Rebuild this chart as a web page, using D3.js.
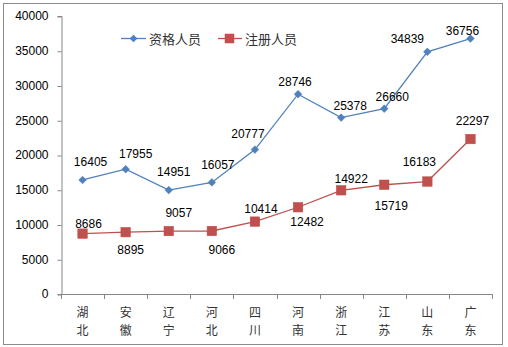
<!DOCTYPE html>
<html>
<head>
<meta charset="utf-8">
<script src="https://cdn.jsdelivr.net/npm/d3@7"></script>
<style>
  html, body { margin: 0; padding: 0; background: #fff; }
  svg { display: block; }
  text { font-family: "Liberation Sans", Arial, sans-serif; }
  .cjk { font-family: "Noto Sans CJK SC", sans-serif; }
</style>
</head>
<body>
<svg id="chart" width="508" height="347"></svg>
<script>
// Provinces (two characters each, drawn stacked)
const categories = ["湖北", "安徽", "辽宁", "河北", "四川", "河南", "浙江", "江苏", "山东", "广东"];
// 资格人员 (qualified staff)
const qualified = [16405, 17955, 14951, 16057, 20777, 28746, 25378, 26660, 34839, 36756];
// 注册人员 (registered staff)
const registered = [8686, 8895, 9057, 9066, 10414, 12482, 14922, 15719, 16183, 22297];
const seriesNames = ["资格人员", "注册人员"];
const yTicks = [0, 5000, 10000, 15000, 20000, 25000, 30000, 35000, 40000];

// Hand-placed value-label offsets (dx, dy) relative to each marker
const qualifiedLabelOffsets = [[8,-18],[10,-15],[5,-18],[6,-17],[-7,-16],[-3,-12],[9,-12],[8,-12],[-20,-13],[-8,-8]];
const registeredLabelOffsets = [[6,-10],[5,18],[10,-18],[10,19],[6,-13],[9,15],[10,-11],[7,21],[-8,-20],[2,-18]];

const svg = d3.select("#chart");
const plot = { left: 61, right: 492, top: 16, bottom: 294 };
const axisColor = "#868686";
const blue = "#4F81BD", red = "#C0504D";
const numFont = "12px";

// Outer frame
svg.append("rect").attr("x", 3.5).attr("y", 3.5).attr("width", 499).attr("height", 341)
  .attr("fill", "#fff").attr("stroke", "#8c8c8c").attr("stroke-width", 1);

const x = d3.scaleBand().domain(categories).range([plot.left, plot.right]);
const y = d3.scaleLinear().domain([0, 40000]).range([plot.bottom, plot.top]);

// Y axis
const yAxis = svg.append("g").attr("transform", `translate(${plot.left + 0.5},0)`)
  .call(d3.axisLeft(y).tickValues(yTicks).tickSize(4).tickPadding(9).tickFormat(d3.format("d")));
yAxis.select(".domain").attr("stroke", axisColor);
yAxis.selectAll(".tick line").attr("stroke", axisColor).attr("transform", "translate(0,0.5)");
yAxis.selectAll(".tick text").attr("font-size", numFont).attr("fill", "#000")
  .attr("font-family", "'Liberation Sans', Arial, sans-serif");

// X axis with boundary tick marks
const xg = svg.append("g");
xg.append("line").attr("x1", plot.left).attr("x2", plot.right)
  .attr("y1", plot.bottom + 0.5).attr("y2", plot.bottom + 0.5).attr("stroke", axisColor);
const edges = categories.map(c => x(c)).concat([plot.right]);
xg.selectAll("line.tk").data(edges).join("line").attr("class", "tk")
  .attr("x1", d => Math.round(d) + 0.5).attr("x2", d => Math.round(d) + 0.5)
  .attr("y1", plot.bottom).attr("y2", plot.bottom + 5).attr("stroke", axisColor);

// Category labels, characters stacked vertically
const cl = xg.selectAll("text.cat").data(categories).join("text").attr("class", "cat cjk")
  .attr("text-anchor", "middle").attr("font-size", "12px").attr("fill", "#333");
cl.append("tspan").attr("x", d => x(d) + x.bandwidth() / 2).attr("y", 316.5).text(d => d[0]);
cl.append("tspan").attr("x", d => x(d) + x.bandwidth() / 2).attr("y", 335).text(d => d[1]);

const cx = i => x(categories[i]) + x.bandwidth() / 2;
const line = d3.line().x((d, i) => cx(i)).y(d => y(d));

// Series lines
svg.append("path").datum(qualified).attr("d", line).attr("fill", "none")
  .attr("stroke", blue).attr("stroke-width", 1.3);
svg.append("path").datum(registered).attr("d", line).attr("fill", "none")
  .attr("stroke", red).attr("stroke-width", 1.3);

// Markers
const diamond = d3.symbol().type(d3.symbolDiamond2).size(38);
svg.selectAll("path.dm").data(qualified).join("path").attr("class", "dm")
  .attr("d", diamond).attr("transform", (d, i) => `translate(${cx(i)},${y(d)})`)
  .attr("fill", blue).attr("stroke", "#4A7EBB").attr("stroke-width", 0.5);
const sq = 9.5;
svg.selectAll("rect.sq").data(registered).join("rect").attr("class", "sq")
  .attr("x", (d, i) => cx(i) - sq / 2).attr("y", d => y(d) - sq / 2)
  .attr("width", sq).attr("height", sq).attr("fill", red).attr("stroke", "#BE4B48").attr("stroke-width", 0.5);

// Value labels
function labels(data, offs, cls) {
  svg.selectAll("text." + cls).data(data).join("text").attr("class", cls)
    .attr("x", (d, i) => cx(i) + offs[i][0]).attr("y", (d, i) => y(d) + offs[i][1])
    .attr("text-anchor", "middle").attr("dominant-baseline", "central")
    .attr("font-size", numFont).attr("fill", "#000").text(d => d);
}
labels(qualified, qualifiedLabelOffsets, "ql");
labels(registered, registeredLabelOffsets, "rl");

// Legend
const lg = svg.append("g").attr("transform", "translate(0,38.5)");
lg.append("line").attr("x1", 121).attr("x2", 146).attr("stroke", blue).attr("stroke-width", 1.3);
lg.append("path").attr("d", diamond).attr("transform", "translate(133.5,0)").attr("fill", blue);
lg.append("text").attr("class", "cjk").attr("x", 149).attr("y", 0).attr("dominant-baseline", "central")
  .attr("font-size", "13px").attr("fill", "#333").text(seriesNames[0]);
lg.append("line").attr("x1", 218).attr("x2", 242).attr("stroke", red).attr("stroke-width", 1.3);
lg.append("rect").attr("x", 229.5 - sq / 2).attr("y", -sq / 2).attr("width", sq).attr("height", sq).attr("fill", red);
lg.append("text").attr("class", "cjk").attr("x", 245).attr("y", 0).attr("dominant-baseline", "central")
  .attr("font-size", "13px").attr("fill", "#333").text(seriesNames[1]);
</script>
</body>
</html>
